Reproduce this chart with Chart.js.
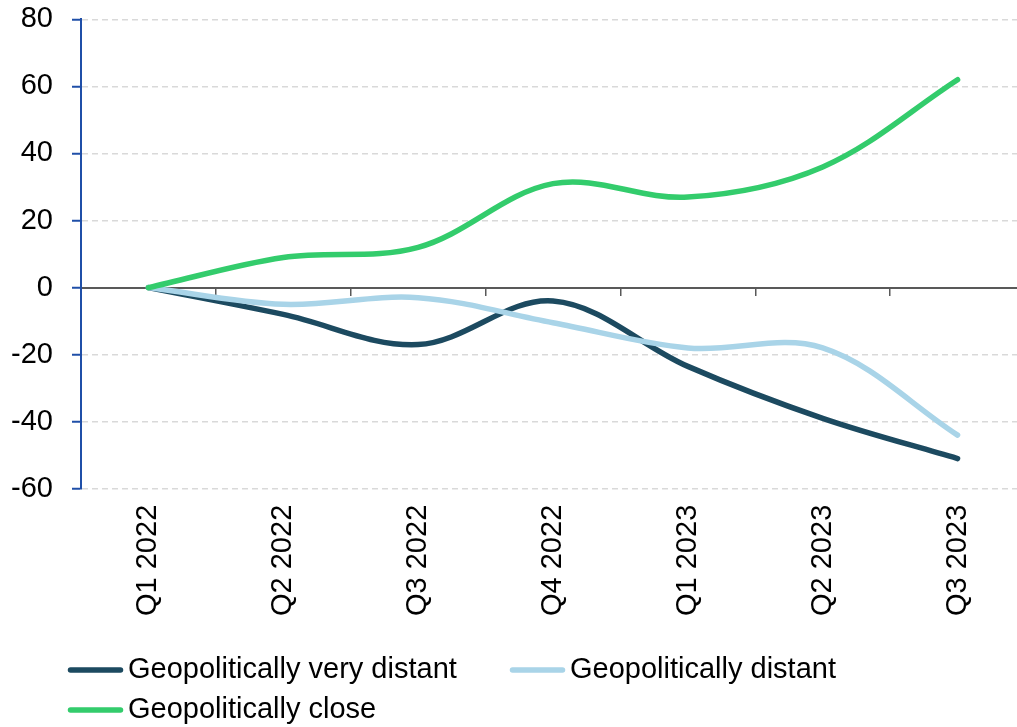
<!DOCTYPE html>
<html>
<head>
<meta charset="utf-8">
<script src="https://cdn.jsdelivr.net/npm/chart.js@4.4.1/dist/chart.umd.min.js"></script>
<style>
  html, body { margin: 0; padding: 0; background: #fff; overflow: hidden; }
  #wrap { width: 1025px; height: 744px; margin-top: -17px; }
</style>
</head>
<body>
<div id="wrap"><canvas id="chart" width="1025" height="744"></canvas></div>
<script>
'use strict';
// ---- data ----
var quarters    = ['Q1 2022', 'Q2 2022', 'Q3 2022', 'Q4 2022', 'Q1 2023', 'Q2 2023', 'Q3 2023'];
var veryDistant = [0, -8, -17, -4, -23.5, -39, -51];
var distant     = [0, -5, -3, -10.5, -18, -18, -44];
var close       = [0, 9, 12, 31, 27, 36, 62];
var yMin = -60, yMax = 80, yStep = 20;

var FONT = "'Liberation Sans', Arial, sans-serif";
var FS = 29;

// legend drawn as line swatches in two rows, like the source
var lineLegend = {
  id: 'lineLegend',
  afterDraw: function(chart, args, opts) {
    var ctx = chart.ctx;
    ctx.save();
    ctx.font = opts.size + 'px ' + FONT;
    ctx.textBaseline = 'middle';
    ctx.textAlign = 'left';
    chart.data.datasets.forEach(function(ds, i) {
      var p = opts.slots[i];
      ctx.strokeStyle = ds.borderColor;
      ctx.lineWidth = 5.5;
      ctx.lineCap = 'round';
      ctx.beginPath();
      ctx.moveTo(p[0], p[1]);
      ctx.lineTo(p[0] + opts.lineLen, p[1]);
      ctx.stroke();
      ctx.fillStyle = '#000';
      ctx.fillText(ds.label, p[0] + opts.lineLen + opts.gap, p[1]);
    });
    ctx.restore();
  }
};

new Chart(document.getElementById('chart'), {
  type: 'line',
  data: {
    labels: quarters,
    datasets: [
      {label: 'Geopolitically very distant', data: veryDistant, borderColor: '#1c4a60', order: 3},
      {label: 'Geopolitically distant',      data: distant,     borderColor: '#a9d4e8', order: 2},
      {label: 'Geopolitically close',        data: close,       borderColor: '#33cc6c', order: 1}
    ]
  },
  options: {
    responsive: false,
    animation: false,
    devicePixelRatio: 1,
    layout: {padding: {top: 2, left: 0, right: 0, bottom: 95}},
    elements: {
      line: {borderWidth: 5.5, tension: 0.35, borderCapStyle: 'round', borderJoinStyle: 'round', fill: false},
      point: {radius: 0, hoverRadius: 0}
    },
    plugins: {
      legend: {display: false},
      tooltip: {enabled: false},
      lineLegend: {size: FS, lineLen: 50, gap: 7.5, slots: [[70.5, 687], [512.5, 687], [70.5, 727]]}
    },
    scales: {
      x: {
        offset: true,
        grid: {display: false, drawTicks: false},
        border: {display: false},
        ticks: {
          autoSkip: false, minRotation: 90, maxRotation: 90, padding: 16,
          color: '#000', font: {family: FONT, size: FS}
        }
      },
      x2: {
        type: 'category',
        position: {y: 0},
        offset: true,
        grid: {offset: true, drawOnChartArea: false, drawTicks: true, tickLength: 7, color: '#595959', lineWidth: 1.5},
        border: {display: true, color: '#595959', width: 2},
        ticks: {display: false}
      },
      y: {
        min: yMin, max: yMax,
        afterFit: function(axis) { axis.width = 81; },
        grid: {color: '#d9d9d9', lineWidth: 1.5, tickLength: 9, tickColor: '#1f4fa8', tickWidth: 2},
        border: {display: true, color: '#1f4fa8', width: 2, dash: [6, 4]},
        ticks: {stepSize: yStep, padding: 19, color: '#000', font: {family: FONT, size: FS}}
      }
    }
  },
  plugins: [lineLegend]
});
</script>
</body>
</html>
